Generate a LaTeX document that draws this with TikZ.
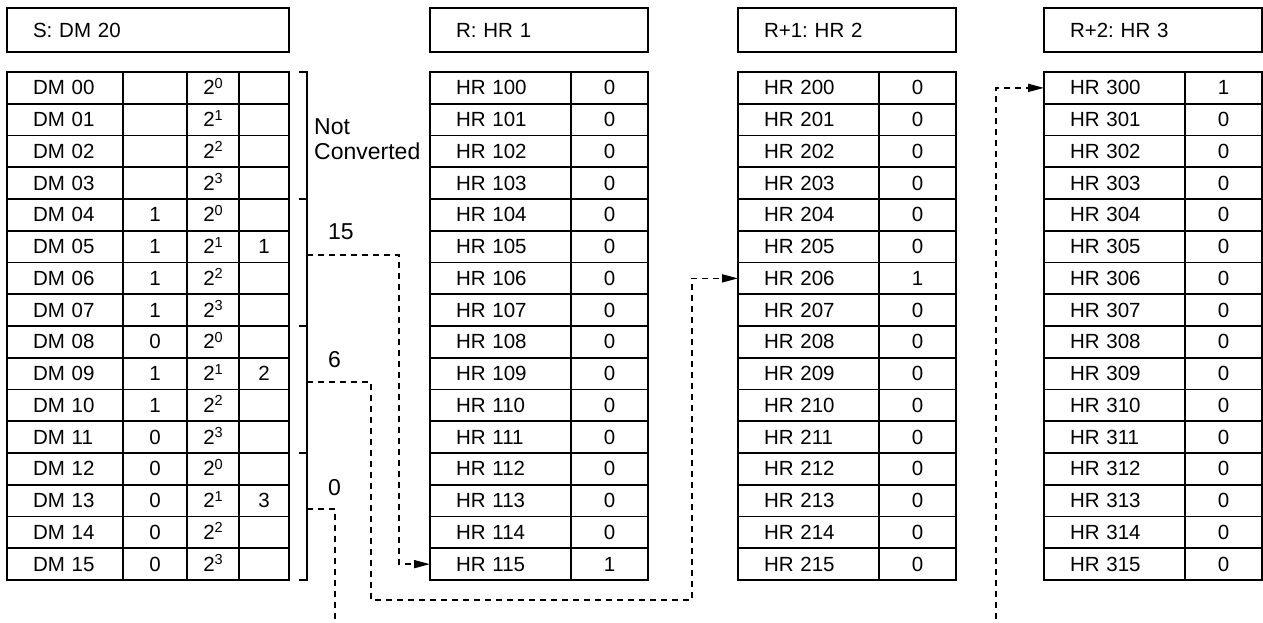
\documentclass[tikz,border=0pt]{standalone}
\usepackage{fontspec}
\setmainfont{Liberation Sans}
\frenchspacing
\usetikzlibrary{arrows.meta,positioning}
\newcommand\pwrtwo[1]{2\raisebox{6.5pt}{\fontsize{14.5}{15}\selectfont #1}}
\tikzset{
  cell/.style={draw, line width=1.6pt, outer sep=0pt, inner sep=0pt,
               minimum height=31.75pt, text height=14pt, text depth=0pt,
               font=\fontsize{20.5}{24}\selectfont},
  namecell/.style={cell, inner xsep=26pt, text width=#1, align=left},
  valcell/.style={cell, minimum width=#1},
  headbox/.style={cell, minimum height=44pt, anchor=north west,
                  inner xsep=26pt, text width=#1, align=left},
  side/.style={font=\fontsize{23}{25}\selectfont, anchor=west, align=left, inner sep=0pt},
  brk/.style={line width=1.6pt},
  link/.style={line width=1.6pt, dash pattern=on 6pt off 5pt,
               -{Triangle[length=16pt,width=8pt]}},
}
\begin{document}
\begin{tikzpicture}[x=1pt, y=-1pt]
  \useasboundingbox (0,0) rectangle (1263,622);
  % source words
  \node[headbox=230pt] (hds) at (7,8) {S: DM 20};
  \foreach \i/\bit/\grp in {0//,1//,2//,3//,4/1/,5/1/1,6/1/,7/1/,8/0/,9/1/2,10/1/,11/0/,12/0/,13/0/3,14/0/,15/0/}{
    \pgfmathtruncatemacro\pw{mod(\i,4)}
    \node[namecell=64pt, anchor=north west] (dm\i) at (7,72+31.75*\i) {DM \ifnum\i<10 0\fi\i};
    \node[valcell=64pt, right=0pt of dm\i] (bit\i) {\bit};
    \node[valcell=52pt, right=0pt of bit\i] (pw\i) {\pwrtwo{\pw}};
    \node[valcell=50pt, right=0pt of pw\i] (grp\i) {\grp};
  }
  % brackets round the digit groups
  \foreach \g in {0,...,3}{
    \draw[brk] (299,72+127*\g) -- (307,72+127*\g) -- (307,199+127*\g) -- (299,199+127*\g);
    \coordinate (b\g) at (307,128+127*\g);
  }
  \node[side] (nc) at (314,139) {Not\\Converted};
  \node[side] (n15) at (328,232) {15};
  \node[side] (n6) at (328,360) {6};
  \node[side] (n0) at (328,488) {0};
  % result words
  \foreach \t/\x/\hit/\lab in {1/430/15/R, 2/738/6/R+1, 3/1044/0/R+2}{
    \node[headbox=166pt] (hd\t) at (\x,8) {\lab: HR \t};
    \foreach \i in {0,...,15}{
      \node[namecell=89pt, anchor=north west] (hr\t-\i) at (\x,72+31.75*\i) {HR \t\ifnum\i<10 0\fi\i};
      \node[valcell=77pt, right=0pt of hr\t-\i] (hv\t-\i) {\ifnum\i=\hit\relax 1\else 0\fi};
    }
  }
  % decoded bits
  \coordinate (j2) at (371,600);
  \coordinate (o1) at (335,630);
  \coordinate (o2) at (996,630);
  \draw[link] (b1) -| ([xshift=-31pt]hr1-15.west) -- (hr1-15.west);
  \draw[link] (b2) -| (j2) -| ([xshift=-46pt]hr2-6.west) -- (hr2-6.west);
  \draw[link, -] (b3) -| (o1);
  \draw[link] (o2) |- (hr3-0.west);
\end{tikzpicture}
\end{document}
